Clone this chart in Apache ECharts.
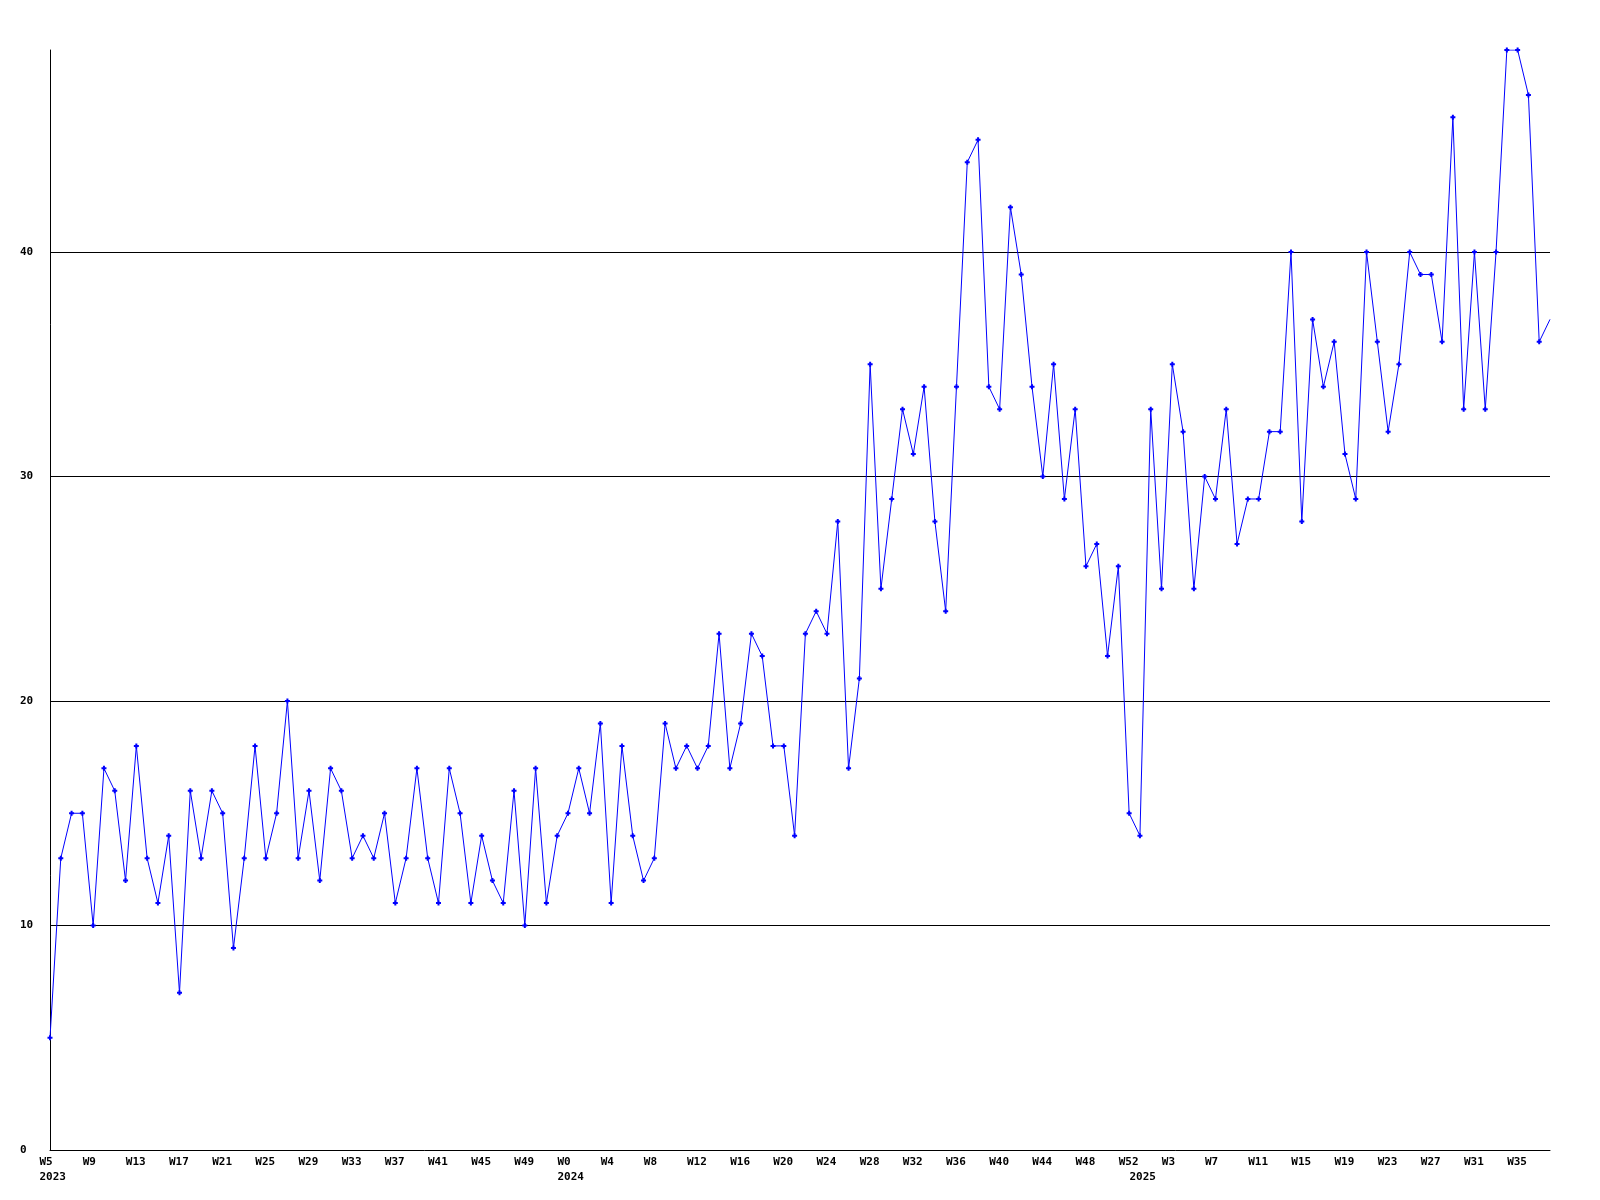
<!DOCTYPE html>
<html>
<head>
<meta charset="utf-8">
<script src="https://cdn.jsdelivr.net/npm/echarts@6/dist/echarts.min.js"></script>
<style>
html, body { margin: 0; padding: 0; background: #ffffff; }
#chart { width: 1600px; height: 1200px; }
</style>
</head>
<body>
<div id="chart"></div>
<script>
// Week numbers per year (one point per week)
const weeks2023 = [5,6,7,8,9,10,11,12,13,14,15,16,17,18,19,20,21,22,23,24,25,26,27,28,29,30,31,32,33,34,35,36,37,38,39,40,41,42,43,44,45,46,47,48,49,50,51,52];
const weeks2024 = [0,1,2,3,4,5,6,7,8,9,10,11,12,13,14,15,16,17,18,19,20,21,22,23,24,25,26,27,28,29,30,31,32,33,34,35,36,37,38,39,40,41,42,43,44,45,46,47,48,49,50,51,52];
const weeks2025 = [0,1,2,3,4,5,6,7,8,9,10,11,12,13,14,15,16,17,18,19,20,21,22,23,24,25,26,27,28,29,30,31,32,33,34,35,36,37,38];

// Weekly values
const values = [
  5,13,15,15,10,17,16,12,18,13,
  11,14,7,16,13,16,15,9,13,18,
  13,15,20,13,16,12,17,16,13,14,
  13,15,11,13,17,13,11,17,15,11,
  14,12,11,16,10,17,11,14,15,17,
  15,19,11,18,14,12,13,19,17,18,
  17,18,23,17,19,23,22,18,18,14,
  23,24,23,28,17,21,35,25,29,33,
  31,34,28,24,34,44,45,34,33,42,
  39,34,30,35,29,33,26,27,22,26,
  15,14,33,25,35,32,25,30,29,33,
  27,29,29,32,32,40,28,37,34,36,
  31,29,40,36,32,35,40,39,39,36,
  46,33,40,33,40,49,49,47,36,37
];

// Y tick labels
const yTicks = [0, 10, 20, 30, 40];
const yMax = 49;

const categories = []
  .concat(weeks2023.map(w => '2023-W' + w))
  .concat(weeks2024.map(w => '2024-W' + w))
  .concat(weeks2025.map(w => '2025-W' + w));

const seriesData = values.map((v, i) =>
  i === values.length - 1 ? { value: v, symbol: 'none' } : v
);

const font = { fontFamily: 'DejaVu Sans Mono', fontWeight: 'bold', fontSize: 11, color: '#000000' };

const chart = echarts.init(document.getElementById('chart'), null, { renderer: 'canvas' });
chart.setOption({
  animation: false,
  backgroundColor: '#ffffff',
  grid: { left: 50, right: 50, top: 50, bottom: 50, containLabel: false },
  xAxis: [
    {
      type: 'category',
      data: categories,
      boundaryGap: false,
      axisLine: { show: true, lineStyle: { color: '#000000', width: 1 } },
      axisTick: { show: false },
      splitLine: { show: false },
      axisLabel: Object.assign({}, font, {
        margin: 7,
        interval: (idx) => idx % 4 === 0,
        formatter: (v) => '{w|W' + v.split('-W')[1] + '}',
        rich: { w: Object.assign({}, font, { width: 21, align: 'left' }) }
      })
    },
    {
      type: 'category',
      data: categories,
      boundaryGap: false,
      position: 'bottom',
      offset: 15,
      axisLine: { show: false },
      axisTick: { show: false },
      splitLine: { show: false },
      axisLabel: Object.assign({}, font, {
        margin: 7,
        interval: (idx, v) => idx === 0 || categories[idx - 1].slice(0, 4) !== v.slice(0, 4),
        formatter: (v) => '{w|' + v.slice(0, 4) + '}',
        rich: { w: Object.assign({}, font, { width: 21, align: 'left' }) }
      })
    }
  ],
  yAxis: {
    type: 'value',
    min: yTicks[0],
    max: yMax,
    interval: 10,
    axisLine: { show: true, lineStyle: { color: '#000000', width: 1 } },
    axisTick: { show: false },
    splitLine: { show: true, showMinLine: false, showMaxLine: false, lineStyle: { color: '#000000', width: 1 } },
    axisLabel: Object.assign({}, font, {
      align: 'left',
      margin: 30,
      showMaxLabel: false,
      formatter: (v) => (yTicks.indexOf(v) >= 0 ? String(v) : '')
    })
  },
  series: [{
    type: 'line',
    data: seriesData,
    xAxisIndex: 0,
    symbol: 'path://M1.5,0H3.5V1.5H5V3.5H3.5V5H1.5V3.5H0V1.5H1.5Z',
    symbolSize: 5,
    showAllSymbol: true,
    lineStyle: { color: '#0000ff', width: 1 },
    itemStyle: { color: '#0000ff' },
    emphasis: { disabled: true }
  }]
});
</script>
</body>
</html>
